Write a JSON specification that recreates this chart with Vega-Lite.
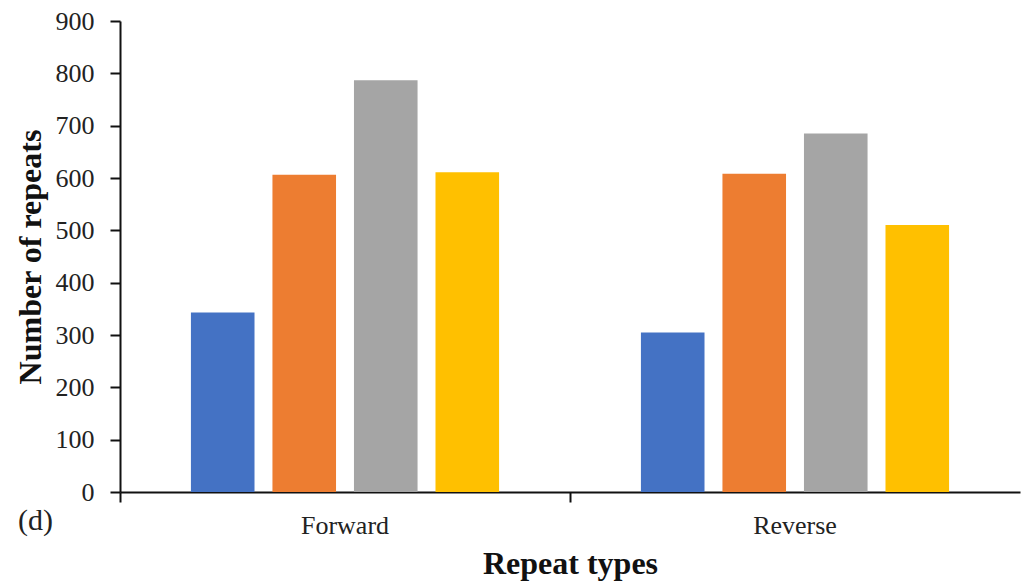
{
  "$schema": "https://vega.github.io/schema/vega-lite/v6.json",
  "autosize": "none",
  "width": 900,
  "height": 471,
  "padding": {"left": 120, "top": 21, "right": 1, "bottom": 93},
  "background": "white",
  "config": {
    "view": {"stroke": null},
    "font": "Liberation Serif"
  },
  "title": {
    "text": "(d)",
    "orient": "bottom",
    "anchor": "start",
    "frame": "group",
    "font": "Liberation Serif",
    "fontSize": 30,
    "fontWeight": "normal",
    "color": "#222222",
    "dx": -102,
    "offset": -73
  },
  "data": {
    "values": [
      {"type": "Forward", "series": "Series 1", "count": 343},
      {"type": "Forward", "series": "Series 2", "count": 606},
      {"type": "Forward", "series": "Series 3", "count": 787},
      {"type": "Forward", "series": "Series 4", "count": 611},
      {"type": "Reverse", "series": "Series 1", "count": 305},
      {"type": "Reverse", "series": "Series 2", "count": 608},
      {"type": "Reverse", "series": "Series 3", "count": 685},
      {"type": "Reverse", "series": "Series 4", "count": 510}
    ]
  },
  "mark": {"type": "bar"},
  "encoding": {
    "x": {
      "field": "type",
      "type": "nominal",
      "sort": ["Forward", "Reverse"],
      "scale": {"paddingInner": 0, "paddingOuter": 0},
      "axis": {
        "title": "Repeat types",
        "titleFont": "Liberation Serif",
        "titleFontSize": 32,
        "titleFontWeight": "bold",
        "titleColor": "#111111",
        "titlePadding": 10,
        "labelAngle": 0,
        "labelFont": "Liberation Serif",
        "labelFontSize": 26,
        "labelColor": "#222222",
        "labelPadding": 10,
        "bandPosition": 0,
        "tickSize": 10,
        "tickWidth": 2,
        "tickColor": "#111111",
        "domainColor": "#111111",
        "domainWidth": 2,
        "grid": false
      }
    },
    "xOffset": {
      "field": "series",
      "type": "nominal",
      "scale": {"paddingInner": 0.22, "paddingOuter": 0.87}
    },
    "y": {
      "field": "count",
      "type": "quantitative",
      "scale": {"domain": [0, 900], "nice": false},
      "axis": {
        "title": "Number of repeats",
        "titleFont": "Liberation Serif",
        "titleFontSize": 32,
        "titleFontWeight": "bold",
        "titleColor": "#111111",
        "titlePadding": 8,
        "values": [0, 100, 200, 300, 400, 500, 600, 700, 800, 900],
        "labelFont": "Liberation Serif",
        "labelFontSize": 26,
        "labelColor": "#222222",
        "labelPadding": 16,
        "tickSize": 10,
        "tickWidth": 2,
        "tickColor": "#111111",
        "domainColor": "#111111",
        "domainWidth": 2,
        "grid": false
      }
    },
    "color": {
      "field": "series",
      "type": "nominal",
      "scale": {
        "domain": ["Series 1", "Series 2", "Series 3", "Series 4"],
        "range": ["#4472C4", "#ED7D31", "#A5A5A5", "#FFC000"]
      },
      "legend": null
    }
  }
}
